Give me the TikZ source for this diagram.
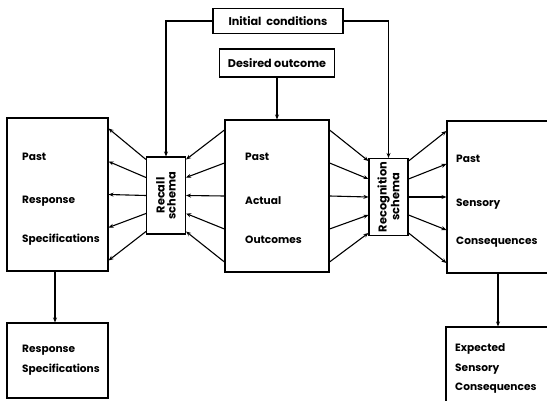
\documentclass[tikz,border=0pt]{standalone}
\usepackage{fontspec}
\setmainfont{Poppins}
\usetikzlibrary{arrows.meta,calc}

\tikzset{
  box/.style={draw, line width=1.1pt, inner sep=0pt},
  schemabox/.style={draw, line width=1.1pt, inner sep=0pt, minimum width=39pt, minimum height=77pt},
  lbl/.style={anchor=west, inner sep=0pt, font=\fontsize{10.6}{12}\selectfont\bfseries},
  toplbl/.style={font=\fontsize{11.2}{12}\selectfont\bfseries},
  schematext/.style={rotate=90, align=center, inner sep=0pt, font=\fontsize{11.4}{11}\selectfont\bfseries},
  arr/.style={line width=1.1pt, -{Stealth[length=5pt,width=4pt]}},
}

\begin{document}
\begin{tikzpicture}[x=1pt,y=-1pt]
\useasboundingbox (0,0) rectangle (547,401);
\clip (0,0) rectangle (547,401);

% top boxes
\node[box, toplbl, minimum width=130pt, minimum height=25pt] (init) at (278,21) {Initial\ \ conditions};
\node[box, toplbl, minimum width=115pt, minimum height=28pt] (desired) at (277,63) {Desired outcome};

% main row
\node[box, minimum width=101pt, minimum height=153pt] (pastresp) at (57.5,194.5) {};
\node[schemabox] (recall) at (166,195.5) {};
\node[schematext] at (recall.center) {Recall\\schema};
\node[box, minimum width=104pt, minimum height=152pt] (pastout) at (277,196) {};
\node[schemabox] (recog) at (388.5,197) {};
\node[schematext] at (recog.center) {Recognition\\schema};
\node[box, minimum width=130pt, minimum height=152pt] (pastsens) at (512,197) {};

% bottom row
\node[box, minimum width=101pt, minimum height=75pt] (respspec) at (57.5,360.5) {};
\node[box, minimum width=130pt, minimum height=90pt] (expsens) at (511,372) {};

% box texts
\node[lbl] at (22,157) {Past};
\node[lbl] at (22,201) {Response};
\node[lbl] at (22,240) {Specifications};
\node[lbl] at (245,157) {Past};
\node[lbl] at (245,201) {Actual};
\node[lbl] at (245,240) {Outcomes};
\node[lbl] at (456,159) {Past};
\node[lbl] at (456,204) {Sensory};
\node[lbl] at (456,242) {Consequences};
\node[lbl] at (22,350) {Response};
\node[lbl] at (22,370) {Specifications};
\node[lbl] at (455,349) {Expected};
\node[lbl] at (455,369) {Sensory};
\node[lbl] at (455,388) {Consequences};

% initial conditions feed both schemas
\draw[arr] (init.west) -| (recall.north);
\draw[arr] (init.east) -| (recog.north);
\draw[arr] (desired.south) -- (pastout.north);

% fan-in / fan-out connectors
\foreach \a/\b in {36/66,18/33,0/0,-18/-33,-36/-66} {
  \draw[arr] ([yshift=\a pt]recall.west) -- ([yshift=\b pt]pastresp.east);
  \draw[arr] ([yshift=\b pt]pastout.west) -- ([yshift=\a pt]recall.east);
  \draw[arr] ([yshift=\b pt]pastout.east) -- ([yshift=\a pt]recog.west);
  \draw[arr] ([yshift=\a pt]recog.east) -- ([yshift=\b pt]pastsens.west);
}

% outputs
\draw[arr] (pastresp.south -| 55,0) -- (respspec.north -| 55,0);
\draw[arr] (pastsens.south -| 498,0) -- (expsens.north -| 498,0);
\end{tikzpicture}
\end{document}
